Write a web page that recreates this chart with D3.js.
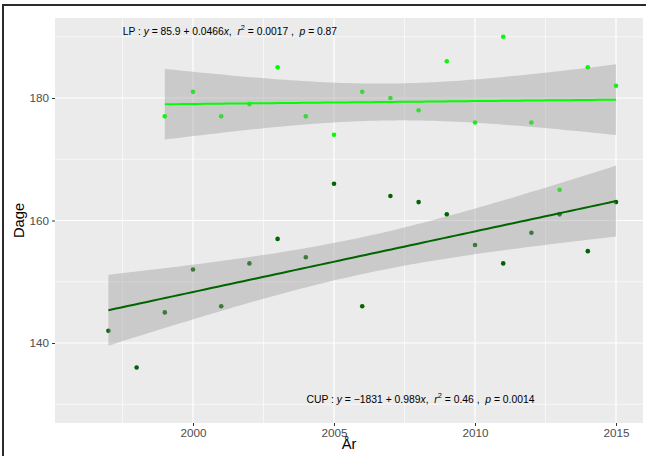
<!DOCTYPE html>
<html>
<head>
<meta charset="utf-8">
<script src="https://cdn.jsdelivr.net/npm/d3@7"></script>
<style>
  html, body { margin: 0; padding: 0; background: #fff; }
  svg { display: block; font-family: "Liberation Sans", Arial, Helvetica, sans-serif; }
  .eq { white-space: pre; }
</style>
</head>
<body>
<svg id="chart" width="646" height="456"></svg>
<script>
// ---- data ----
const lpYears  = [1999,2000,2001,2002,2003,2004,2005,2006,2007,2008,2009,2010,2011,2012,2013,2014,2015];
const lpDays   = [177, 181, 177, 179, 185, 177, 174, 181, 180, 178, 186, 176, 190, 176, 165, 185, 182];
const cupYears = [1997,1998,1999,2000,2001,2002,2003,2004,2005,2006,2007,2008,2009,2010,2011,2012,2013,2014,2015];
const cupDays  = [142, 136, 145, 152, 146, 153, 157, 154, 166, 146, 164, 163, 161, 156, 153, 158, 161, 155, 163];
const xTicks = [2000, 2005, 2010, 2015];
const yTicks = [140, 160, 180];
const xMinor = [1997.5, 2002.5, 2007.5, 2012.5];
const yMinor = [130, 150, 170, 190];
const lpLabel  = [["LP : "],["y","i"],[" = 85.9 + 0.0466"],["x","i"],[",  "],["r","i"],["2","s"],[" = 0.0017 ,  "],["p","i"],[" = 0.87"]];
const cupLabel = [["CUP : "],["y","i"],[" = \u22121831 + 0.989"],["x","i"],[",  "],["r","i"],["2","s"],[" = 0.46 ,  "],["p","i"],[" = 0.0014"]];

const svg = d3.select("#chart");
const P = {l: 55, r: 643, t: 18, b: 423};

const x = d3.scaleLinear().domain([1995.106, 2015.957]).range([P.l, P.r]);
const y = d3.scaleLinear().domain([126.94, 193.06]).range([P.b, P.t]);

// frame (cropped screenshot border)
svg.append("line").attr("x1", 3).attr("x2", 646).attr("y1", 5).attr("y2", 5).attr("stroke", "#2b2b2b").attr("stroke-width", 2);
svg.append("line").attr("x1", 3).attr("x2", 3).attr("y1", 4).attr("y2", 456).attr("stroke", "#2b2b2b").attr("stroke-width", 2);

// panel
svg.append("rect").attr("x", P.l).attr("y", P.t).attr("width", P.r - P.l).attr("height", P.b - P.t).attr("fill", "#EBEBEB");

const grid = svg.append("g");
grid.selectAll(".ymin").data(yMinor).join("line")
  .attr("x1", P.l).attr("x2", P.r).attr("y1", d => y(d)).attr("y2", d => y(d))
  .attr("stroke", "#fff").attr("stroke-width", 0.6);
grid.selectAll(".xmin").data(xMinor).join("line")
  .attr("y1", P.t).attr("y2", P.b).attr("x1", d => x(d)).attr("x2", d => x(d))
  .attr("stroke", "#fff").attr("stroke-width", 0.6);
grid.selectAll(".ymaj").data(yTicks).join("line")
  .attr("x1", P.l).attr("x2", P.r).attr("y1", d => y(d)).attr("y2", d => y(d))
  .attr("stroke", "#fff").attr("stroke-width", 1.2);
grid.selectAll(".xmaj").data(xTicks).join("line")
  .attr("y1", P.t).attr("y2", P.b).attr("x1", d => x(d)).attr("x2", d => x(d))
  .attr("stroke", "#fff").attr("stroke-width", 1.2);

// axes
const xAxis = d3.axisBottom(x).tickValues(xTicks).tickSize(3).tickPadding(3).tickFormat(d3.format("d"));
const yAxis = d3.axisLeft(y).tickValues(yTicks).tickSize(3).tickPadding(3).tickFormat(d3.format("d"));
const gx = svg.append("g").attr("transform", `translate(0,${P.b})`).call(xAxis);
const gy = svg.append("g").attr("transform", `translate(${P.l},0)`).call(yAxis);
[gx, gy].forEach(g => {
  g.select(".domain").remove();
  g.selectAll(".tick line").attr("stroke", "#333333").attr("stroke-width", 1);
  g.selectAll(".tick text").attr("fill", "#4D4D4D").style("font-size", "11.7px")
    .style("font-family", "'Liberation Sans', Arial, sans-serif");
});

// points
const series = [
  {years: lpYears, vals: lpDays, color: "#00FF00", t: 2.131},
  {years: cupYears, vals: cupDays, color: "#006400", t: 2.110}
];
series.forEach(s => {
  svg.append("g").selectAll("circle").data(s.years.map((yr, i) => [yr, s.vals[i]])).join("circle")
    .attr("cx", d => x(d[0])).attr("cy", d => y(d[1])).attr("r", 2.3).attr("fill", s.color);
});

// linear fits with 95% confidence band
series.forEach(s => {
  const n = s.years.length;
  const mx = d3.mean(s.years), my = d3.mean(s.vals);
  let sxx = 0, sxy = 0;
  s.years.forEach((xv, i) => { sxx += (xv - mx) ** 2; sxy += (xv - mx) * (s.vals[i] - my); });
  const b = sxy / sxx, a = my - b * mx;
  let sse = 0;
  s.years.forEach((xv, i) => { sse += (s.vals[i] - (a + b * xv)) ** 2; });
  const sd = Math.sqrt(sse / (n - 2));
  const [x0, x1] = d3.extent(s.years);
  const pts = d3.range(80).map(k => {
    const xv = x0 + (x1 - x0) * k / 79;
    const fit = a + b * xv;
    const se = sd * Math.sqrt(1 / n + (xv - mx) ** 2 / sxx);
    return {xv, fit, lo: fit - s.t * se, hi: fit + s.t * se};
  });
  svg.append("path").datum(pts)
    .attr("d", d3.area().x(d => x(d.xv)).y0(d => y(d.lo)).y1(d => y(d.hi)))
    .attr("fill", "#999999").attr("fill-opacity", 0.4);
  svg.append("path").datum(pts)
    .attr("d", d3.line().x(d => x(d.xv)).y(d => y(d.fit)))
    .attr("fill", "none").attr("stroke", s.color).attr("stroke-width", 2);
});

// equation labels
function eqLabel(parts, px, py, targetW) {
  const t = svg.append("text").attr("class", "eq").attr("x", px).attr("y", py).attr("fill", "#000")
    .attr("xml:space", "preserve").attr("dominant-baseline", "middle");
  let fs = 10.5;
  const build = () => {
    t.selectAll("tspan").remove();
    t.style("font-size", fs + "px");
    parts.forEach((p, i) => {
      const ts = t.append("tspan").text(p[0]);
      if (p[1] === "i") ts.style("font-style", "italic");
      if (p[1] === "s") ts.attr("dy", -fs * 0.38).style("font-size", (fs * 0.72) + "px");
      if (i > 0 && parts[i - 1][1] === "s") ts.attr("dy", fs * 0.38);
    });
  };
  build();
  const w = t.node().getComputedTextLength();
  if (w > 0) { fs = fs * targetW / w; build(); }
  return t;
}
eqLabel(lpLabel, 122.7, 31.5, 214.5);
eqLabel(cupLabel, 306.5, 400, 228.3);

// axis titles
svg.append("text").attr("x", (P.l + P.r) / 2).attr("y", 449).attr("text-anchor", "middle")
  .style("font-size", "14.7px").attr("fill", "#000").text("År");
svg.append("text").attr("transform", `translate(24,${(P.t + P.b) / 2}) rotate(-90)`).attr("text-anchor", "middle")
  .style("font-size", "14.7px").attr("fill", "#000").text("Dage");
</script>
</body>
</html>
